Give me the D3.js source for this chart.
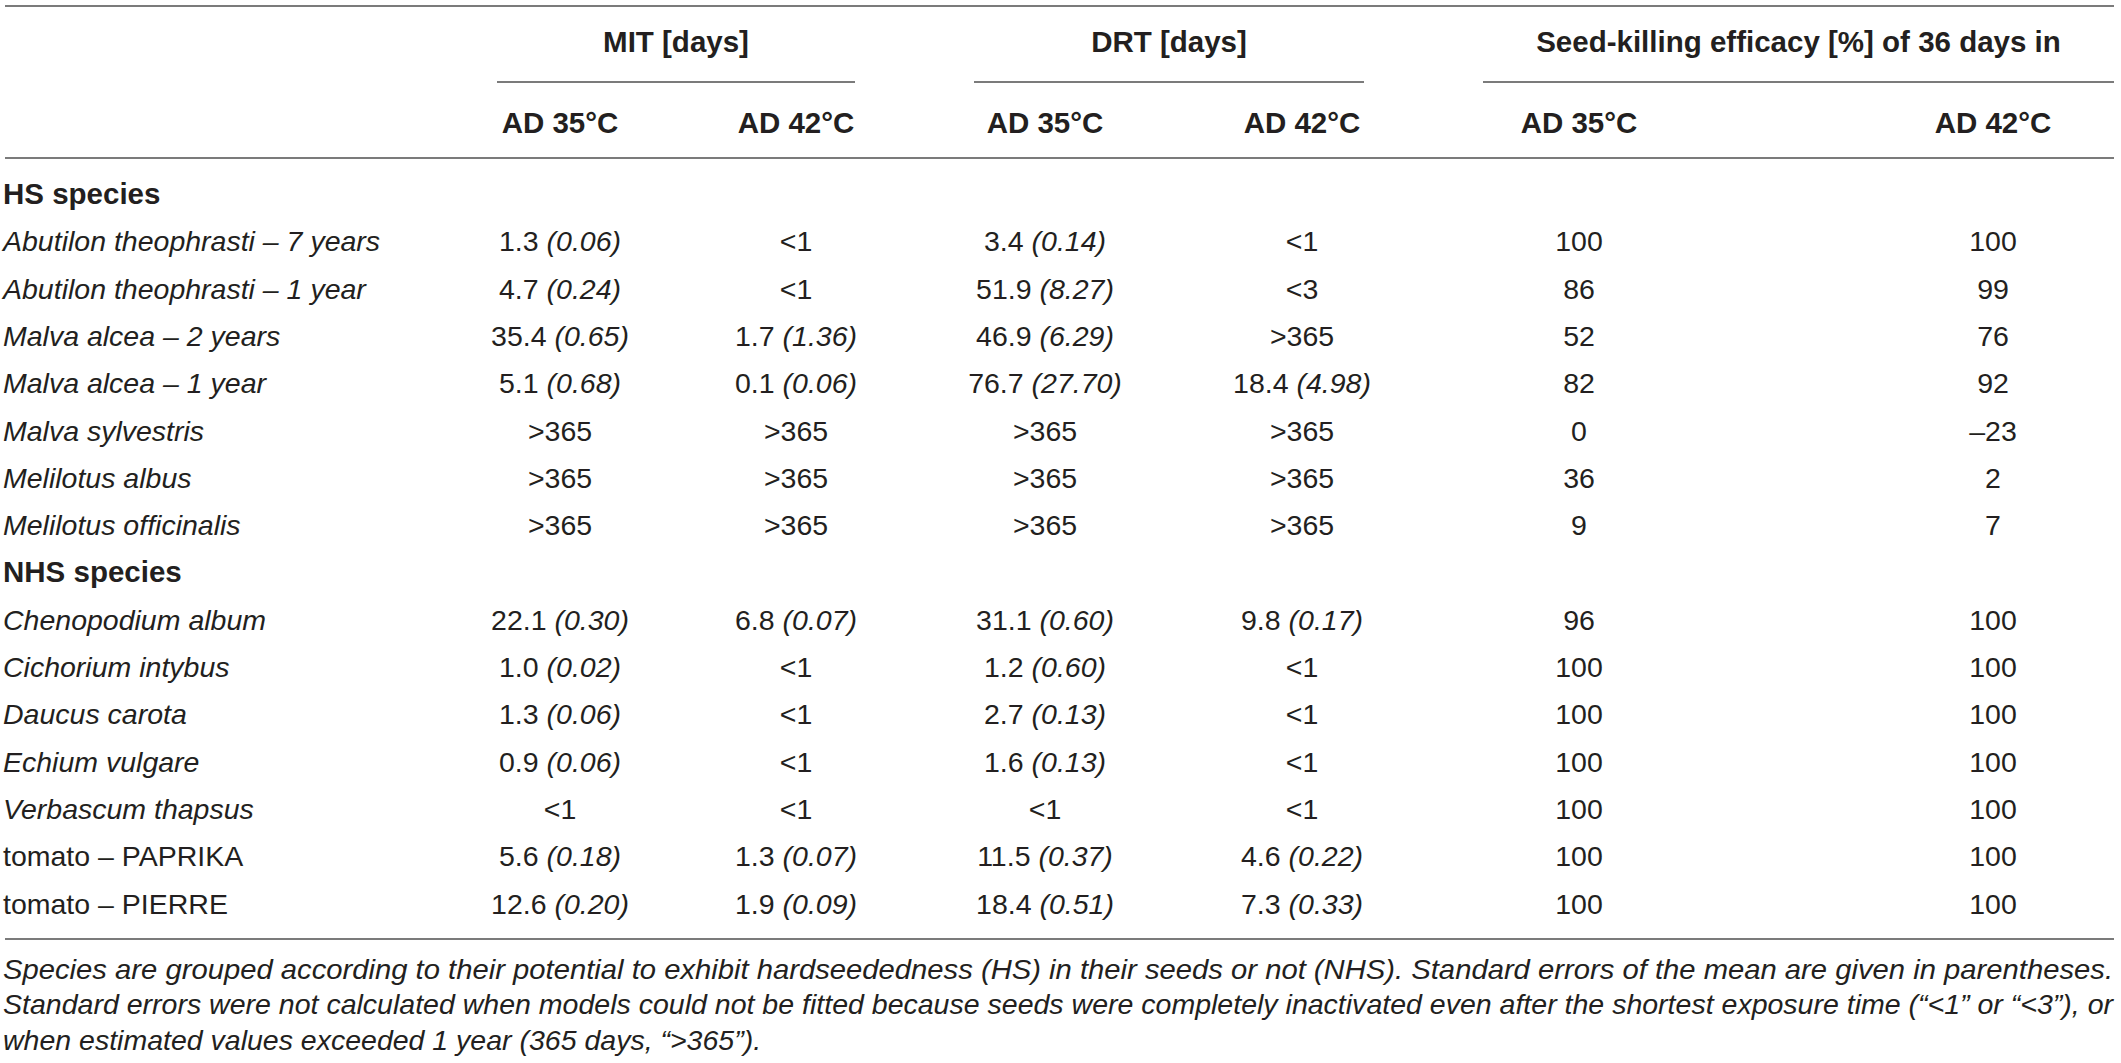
<!DOCTYPE html>
<html>
<head>
<meta charset="utf-8">
<script src="https://cdn.jsdelivr.net/npm/d3@7"></script>
<style>
  html, body { margin: 0; padding: 0; background: #fff; }
  svg { display: block; }
  text { font-family: "Liberation Sans", Arial, Helvetica, sans-serif; fill: #231f20; }
</style>
</head>
<body>
<svg id="chart" width="2121" height="1063"></svg>
<script>
// ---------- data ----------
const groupTitles = ["MIT [days]", "DRT [days]", "Seed-killing efficacy [%] of 36 days in"];
const subHeaders = ["AD 35°C", "AD 42°C", "AD 35°C", "AD 42°C", "AD 35°C", "AD 42°C"];
const sectionTitles = ["HS species", "NHS species"];
const hsSpecies = [
  "Abutilon theophrasti – 7 years",
  "Abutilon theophrasti – 1 year",
  "Malva alcea – 2 years",
  "Malva alcea – 1 year",
  "Malva sylvestris",
  "Melilotus albus",
  "Melilotus officinalis"
];
const nhsSpecies = [
  "Chenopodium album",
  "Cichorium intybus",
  "Daucus carota",
  "Echium vulgare",
  "Verbascum thapsus",
  "tomato – PAPRIKA",
  "tomato – PIERRE"
];
const uprightLabels = ["tomato – PAPRIKA", "tomato – PIERRE"];

// values in the order hsSpecies then nhsSpecies
const mit35    = ["1.3", "4.7", "35.4", "5.1", ">365", ">365", ">365", "22.1", "1.0", "1.3", "0.9", "<1", "5.6", "12.6"];
const mit35se  = ["0.06", "0.24", "0.65", "0.68", null, null, null, "0.30", "0.02", "0.06", "0.06", null, "0.18", "0.20"];
const mit42    = ["<1", "<1", "1.7", "0.1", ">365", ">365", ">365", "6.8", "<1", "<1", "<1", "<1", "1.3", "1.9"];
const mit42se  = [null, null, "1.36", "0.06", null, null, null, "0.07", null, null, null, null, "0.07", "0.09"];
const drt35    = ["3.4", "51.9", "46.9", "76.7", ">365", ">365", ">365", "31.1", "1.2", "2.7", "1.6", "<1", "11.5", "18.4"];
const drt35se  = ["0.14", "8.27", "6.29", "27.70", null, null, null, "0.60", "0.60", "0.13", "0.13", null, "0.37", "0.51"];
const drt42    = ["<1", "<3", ">365", "18.4", ">365", ">365", ">365", "9.8", "<1", "<1", "<1", "<1", "4.6", "7.3"];
const drt42se  = [null, null, null, "4.98", null, null, null, "0.17", null, null, null, null, "0.22", "0.33"];
const seed35   = [100, 86, 52, 82, 0, 36, 9, 96, 100, 100, 100, 100, 100, 100];
const seed42   = [100, 99, 76, 92, -23, 2, 7, 100, 100, 100, 100, 100, 100, 100];

const footnote = [
  "Species are grouped according to their potential to exhibit hardseededness (HS) in their seeds or not (NHS). Standard errors of the mean are given in parentheses.",
  "Standard errors were not calculated when models could not be fitted because seeds were completely inactivated even after the shortest exposure time (“<1” or “<3”), or",
  "when estimated values exceeded 1 year (365 days, “>365”)."
];

// ---------- layout ----------
const FS = 28.5;
const FSB = 29.5;
const lineColor = "#7b7b7b";
const svg = d3.select("#chart");

const colKeys = ["mit35", "mit42", "drt35", "drt42", "seed35", "seed42"];
const x = d3.scaleOrdinal().domain(colKeys).range([560, 796, 1045, 1302, 1579, 1993]);
const groupSpan = [[497, 855], [974, 1364], [1483, 2114]];

// rows: section title + species
const rows = [];
rows.push({ label: sectionTitles[0], type: "section" });
hsSpecies.forEach((s, i) => rows.push({ label: s, type: "row", idx: i }));
rows.push({ label: sectionTitles[1], type: "section" });
nhsSpecies.forEach((s, i) => rows.push({ label: s, type: "row", idx: hsSpecies.length + i }));

const y = d3.scaleLinear().domain([0, rows.length - 1]).range([204, 913.5]);

// horizontal rules
const rule = (x1, x2, yy) => svg.append("line")
  .attr("x1", x1).attr("x2", x2).attr("y1", yy).attr("y2", yy)
  .attr("stroke", lineColor).attr("stroke-width", 2);
rule(5, 2114, 6);
rule(5, 2114, 158);
rule(5, 2114, 939);
groupSpan.forEach(g => rule(g[0], g[1], 82));

// group titles
svg.selectAll("text.group").data(groupTitles).join("text")
  .attr("class", "group")
  .attr("x", (d, i) => (groupSpan[i][0] + groupSpan[i][1]) / 2)
  .attr("y", 52)
  .attr("text-anchor", "middle")
  .attr("font-weight", "bold")
  .attr("font-size", FSB)
  .text(d => d);

// sub headers
svg.selectAll("text.sub").data(subHeaders).join("text")
  .attr("class", "sub")
  .attr("x", (d, i) => x(colKeys[i]))
  .attr("y", 133)
  .attr("text-anchor", "middle")
  .attr("font-weight", "bold")
  .attr("font-size", FSB)
  .text(d => d);

// row labels
svg.selectAll("text.rowlab").data(rows).join("text")
  .attr("class", "rowlab")
  .attr("x", 3)
  .attr("y", (d, i) => y(i))
  .attr("font-size", d => d.type === "section" ? FSB : FS)
  .attr("font-weight", d => d.type === "section" ? "bold" : "normal")
  .attr("font-style", d => (d.type === "row" && !uprightLabels.includes(d.label)) ? "italic" : "normal")
  .text(d => d.label);

// cells
const colVals = { mit35, mit42, drt35, drt42 };
const colSE = { mit35: mit35se, mit42: mit42se, drt35: drt35se, drt42: drt42se };
const fmtSeed = v => v < 0 ? "–" + Math.abs(v) : String(v);

const dataRows = rows.map((r, i) => ({ r, i })).filter(d => d.r.type === "row");

["mit35", "mit42", "drt35", "drt42"].forEach(k => {
  const g = svg.append("g");
  const t = g.selectAll("text").data(dataRows).join("text")
    .attr("x", x(k))
    .attr("y", d => y(d.i))
    .attr("text-anchor", "middle")
    .attr("font-size", FS);
  t.append("tspan").text(d => colVals[k][d.r.idx]);
  t.filter(d => colSE[k][d.r.idx] != null)
    .append("tspan").attr("font-style", "italic")
    .text(d => " (" + colSE[k][d.r.idx] + ")");
});

[["seed35", seed35], ["seed42", seed42]].forEach(([k, arr]) => {
  svg.append("g").selectAll("text").data(dataRows).join("text")
    .attr("x", x(k))
    .attr("y", d => y(d.i))
    .attr("text-anchor", "middle")
    .attr("font-size", FS)
    .text(d => fmtSeed(arr[d.r.idx]));
});

// footnote
const fy = [979, 1014, 1050];
svg.selectAll("text.foot").data(footnote).join("text")
  .attr("class", "foot")
  .attr("x", 3)
  .attr("y", (d, i) => fy[i])
  .attr("font-size", FS)
  .attr("font-style", "italic")
  .each(function (d, i) {
    if (i < footnote.length - 1) {
      d3.select(this).attr("textLength", 2110).attr("lengthAdjust", "spacingAndGlyphs");
    }
  })
  .text(d => d);
</script>
</body>
</html>
